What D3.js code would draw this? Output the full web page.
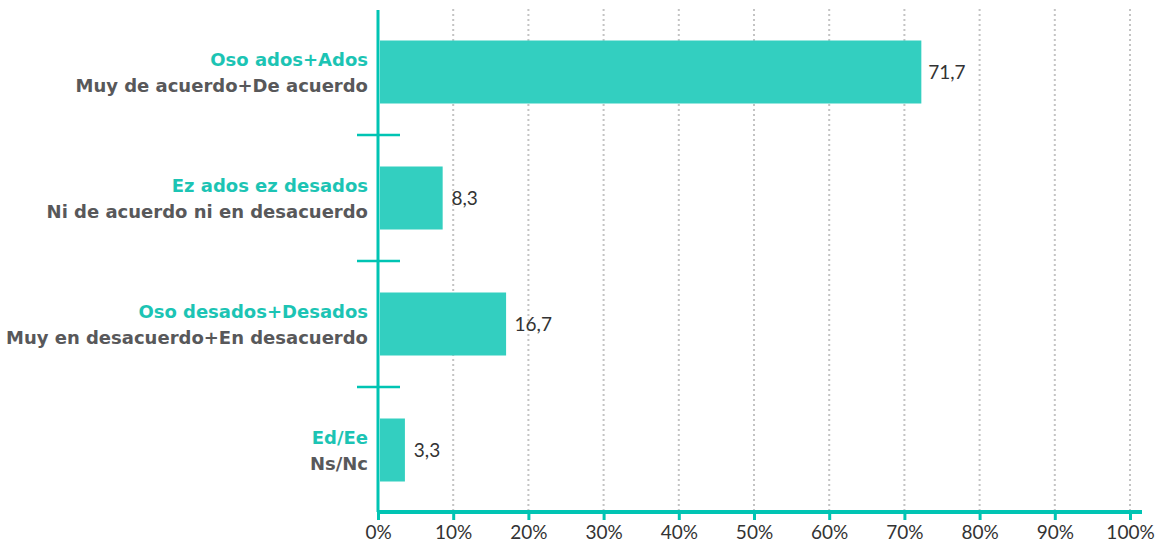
<!DOCTYPE html>
<html>
<head>
<meta charset="utf-8">
<script src="https://cdn.jsdelivr.net/npm/d3@7/dist/d3.min.js"></script>
<style>
  body { margin: 0; background: #fff; }
  svg { display: block; }
  .cat1 { font-family: "DejaVu Sans", sans-serif; font-weight: 700; font-size: 18px; fill: #1cc4b4; }
  .cat2 { font-family: "DejaVu Sans", sans-serif; font-weight: 700; font-size: 18px; fill: #58585a; }
  .val { font-family: Lato, sans-serif; font-size: 19px; fill: #333; }
  .tick text { font-family: Lato, sans-serif; font-size: 19px; fill: #333; }
</style>
</head>
<body>
<svg id="chart" width="1161" height="546"></svg>
<script>
var labelsEu = ['Oso ados+Ados', 'Ez ados ez desados', 'Oso desados+Desados', 'Ed/Ee'];
var labelsEs = ['Muy de acuerdo+De acuerdo', 'Ni de acuerdo ni en desacuerdo', 'Muy en desacuerdo+En desacuerdo', 'Ns/Nc'];
var values = [71.7, 8.3, 16.7, 3.3];
var xTicks = [0, 10, 20, 30, 40, 50, 60, 70, 80, 90, 100];

var teal = '#00c4b3', barFill = '#33cfc0';
var svg = d3.select('#chart');

var x = d3.scaleLinear().domain([0, 100]).range([378, 1130]);
var y = d3.scaleBand().domain(d3.range(values.length)).range([9, 513]).paddingInner(0.5).paddingOuter(0.25);

// dotted grid
svg.append('g').selectAll('line').data(xTicks.slice(1)).enter().append('line')
    .attr('x1', (d) => x(d)).attr('x2', (d) => x(d))
    .attr('y1', 9).attr('y2', 512)
    .attr('stroke', '#c4c4c4').attr('stroke-width', 2).attr('stroke-dasharray', '2,3');

// bars (start just right of the axis line)
svg.append('g').selectAll('rect').data(values).enter().append('rect')
    .attr('x', x(0) + 2).attr('y', (d, i) => y(i))
    .attr('width', (d) => (x(d) - x(0)) * 1.004).attr('height', y.bandwidth())
    .attr('fill', barFill);

// values
svg.append('g').selectAll('text').data(values).enter().append('text')
    .attr('class', 'val')
    .attr('x', (d) => x(d) + 11).attr('y', (d, i) => y(i) + y.bandwidth() / 2 + 7)
    .text((d) => d3.format('.1f')(d).replace('.', ','));

// x axis
var xAxis = d3.axisBottom(x).tickValues(xTicks).tickFormat((d) => d + '%').tickSize(8).tickPadding(6);
var gx = svg.append('g').attr('transform', 'translate(0,512)').call(xAxis);
gx.select('.domain').remove();
gx.selectAll('.tick line').attr('stroke', teal).attr('stroke-width', 3);
gx.append('line').attr('x1', 377).attr('x2', 1142).attr('y1', 0).attr('y2', 0)
    .attr('stroke', teal).attr('stroke-width', 4);

// y axis line and separators
svg.append('line').attr('x1', 378).attr('x2', 378).attr('y1', 10).attr('y2', 512)
    .attr('stroke', teal).attr('stroke-width', 3);
svg.append('g').selectAll('line').data(d3.range(1, values.length)).enter().append('line')
    .attr('x1', 357).attr('x2', 400)
    .attr('y1', (d) => y(d) - y.step() * y.paddingInner() / 2)
    .attr('y2', (d) => y(d) - y.step() * y.paddingInner() / 2)
    .attr('stroke', teal).attr('stroke-width', 2.5);

// category labels
var cats = svg.append('g').selectAll('g').data(values).enter().append('g');
cats.append('text').attr('class', 'cat1').attr('text-anchor', 'end')
    .attr('x', 368).attr('y', (d, i) => y(i) + y.bandwidth() / 2 - 6)
    .text((d, i) => labelsEu[i]);
cats.append('text').attr('class', 'cat2').attr('text-anchor', 'end')
    .attr('x', 368).attr('y', (d, i) => y(i) + y.bandwidth() / 2 + 20)
    .text((d, i) => labelsEs[i]);
</script>
</body>
</html>
